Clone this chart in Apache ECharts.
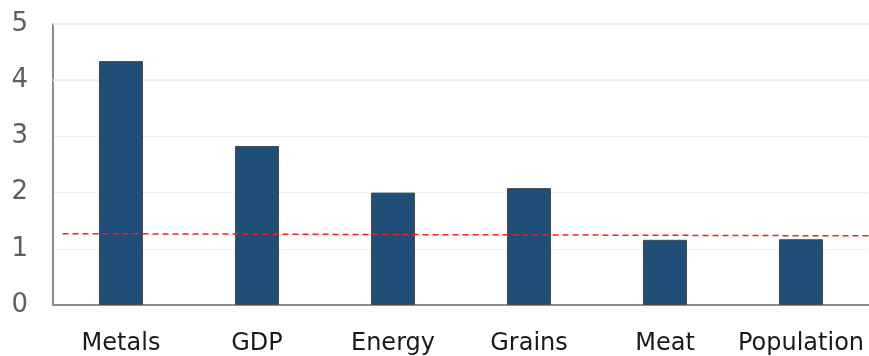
<!DOCTYPE html>
<html>
<head>
<meta charset="utf-8">
<script src="https://cdn.jsdelivr.net/npm/echarts@6/dist/echarts.min.js"></script>
<style>
  html, body { margin: 0; padding: 0; background: #fff; }
  #chart { width: 869px; height: 356px; }
</style>
</head>
<body>
<div id="chart"></div>
<script>
// Categories and bar values
const categories = ['Metals', 'GDP', 'Energy', 'Grains', 'Meat', 'Population'];
const values = [4.34, 2.83, 2.0, 2.08, 1.16, 1.17];
// Reference line (dashed red), start and end points on a 0..6 span
const refLine = [[0.07, 1.27], [6, 1.23]];
// Y axis range and ticks
const yMin = 0, yMax = 5, yStep = 1;
const solidGridValues = [4, 5];

const chart = echarts.init(document.getElementById('chart'), null, { renderer: 'canvas' });

// solid gridlines for the upper ticks, drawn behind the bars
const solidGridSeries = solidGridValues.map(v => ({
  type: 'line',
  xAxisIndex: 1,
  data: [[0, v], [6, v]],
  symbol: 'none',
  silent: true,
  lineStyle: { color: '#ececec', type: 'solid', width: 2 },
  z: 1
}));

chart.setOption({
  animation: false,
  grid: { left: 53, right: 0, top: 24, bottom: 51 },
  xAxis: [
    {
      type: 'category',
      data: categories,
      axisLine: { lineStyle: { color: '#8c8c8c', width: 2 } },
      axisTick: { show: false },
      axisLabel: {
        interval: 0,
        color: '#1a1a1a',
        fontFamily: 'DejaVu Sans',
        fontSize: 24,
        margin: 27
      }
    },
    {
      type: 'value',
      min: 0,
      max: 6,
      show: false
    }
  ],
  yAxis: {
    type: 'value',
    min: yMin,
    max: yMax,
    interval: yStep,
    axisLine: { show: true, lineStyle: { color: '#8c8c8c', width: 2 } },
    axisTick: { show: false },
    axisLabel: {
      color: '#5f5f5f',
      fontFamily: 'DejaVu Sans',
      fontSize: 26,
      margin: 25
    },
    splitLine: { show: true, lineStyle: { color: '#dcdcdc', type: 'dotted', width: 1 } }
  },
  series: solidGridSeries.concat([
    {
      type: 'bar',
      data: values,
      barWidth: 44,
      itemStyle: { color: '#1f4e79', borderColor: '#4a4a4a', borderWidth: 1 },
      z: 3
    },
    {
      type: 'line',
      xAxisIndex: 1,
      data: refLine,
      symbol: 'none',
      lineStyle: { color: '#ff1a1a', type: [6, 4], width: 1.5 },
      z: 5
    }
  ])
});
</script>
</body>
</html>
